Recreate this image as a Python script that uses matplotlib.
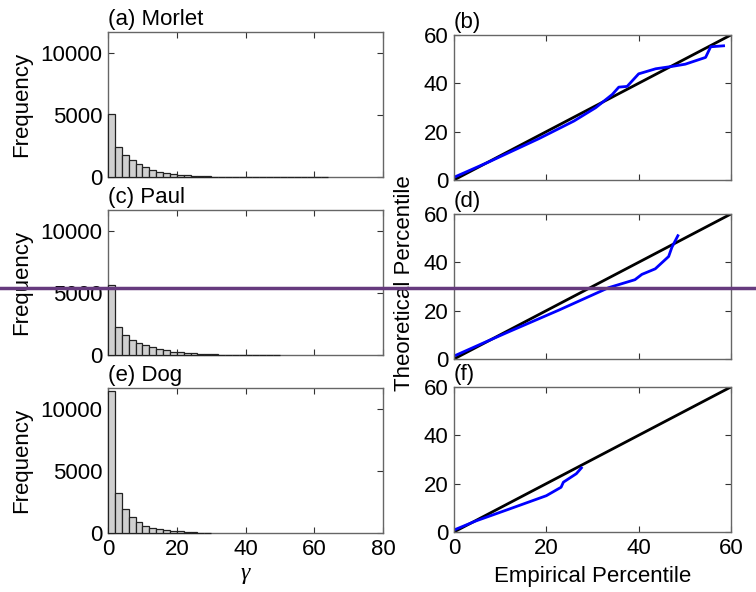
import numpy as np
import matplotlib
matplotlib.use("Agg")
import matplotlib.pyplot as plt
from matplotlib.lines import Line2D

plt.rcParams['font.family'] = ['Liberation Sans', 'DejaVu Sans']

# histogram counts, bins of width 2 starting at 0
bin_width = 2
morlet_counts = [5080, 2450, 1800, 1400, 1070, 810, 590, 430, 350, 250, 190, 130, 80, 80, 60,
                 40, 30, 25, 20, 15, 12, 10, 10, 8, 8, 6, 6, 5, 5, 5, 0, 30]
paul_counts = [5670, 2290, 1650, 1200, 985, 775, 615, 510, 375, 270, 210, 160, 130, 100, 70,
               45, 35, 25, 20, 15, 12, 10, 8, 6, 5]
dog_counts = [11440, 3200, 1920, 1280, 880, 585, 400, 295, 215, 160, 120,
              60, 40, 25, 15]

# QQ curves (empirical vs theoretical percentile)
morlet_emp = [0, 7.6, 18.4, 26, 30.7, 34.3, 35.7, 37.5, 40, 43.7, 47.3, 50.1, 54.5, 55.6, 58.4]
morlet_theo = [1.1, 7.5, 17.1, 24.4, 29.9, 35.4, 38.4, 38.7, 43.9, 46, 47, 47.9, 50.7, 55.1, 55.5]
paul_emp = [0, 6.1, 11.8, 22.7, 33.5, 39.2, 40.7, 43.6, 46.5, 47.2, 48.5]
paul_theo = [1.2, 6.4, 11.2, 20.2, 29.5, 32.8, 35, 37.3, 42.4, 46.2, 51]
dog_emp = [0, 4.8, 12, 20, 23.2, 23.7, 26.5, 27.6]
dog_theo = [0.8, 4.6, 9.5, 15, 18.5, 20.6, 24.1, 26.5]

hist_titles = ['(a) Morlet', '(c) Paul', '(e) Dog']
qq_titles = ['(b)', '(d)', '(f)']

fig = plt.figure(figsize=(7.56, 5.92), dpi=100)

left_rows = [0.701, 0.4003, 0.0997]
right_rows = [0.696, 0.3936, 0.1014]
h = 0.245

def style(ax):
    ax.tick_params(direction='in', top=True, right=True, labelsize=16, pad=4,
                   length=4, width=0.8, color='#333333')
    for s in ax.spines.values():
        s.set_color('#666666')
        s.set_linewidth(1.0)

for i, counts in enumerate([morlet_counts, paul_counts, dog_counts]):
    ax = fig.add_axes([0.1429, left_rows[i], 0.3638, h])
    edges = np.arange(len(counts)) * bin_width
    ax.bar(edges, counts, width=bin_width, align='edge', color='#d0d0d0',
           edgecolor='#222222', linewidth=0.9, zorder=3, clip_on=False)
    ax.set_xlim(0, 80)
    ax.set_ylim(0, 11700)
    ax.set_xticks([0, 20, 40, 60, 80])
    ax.set_yticks([0, 5000, 10000])
    style(ax)
    ax.set_ylabel('Frequency', fontsize=16)
    ax.yaxis.set_label_coords(-0.275, 0.5)
    ax.text(0, 1.015, hist_titles[i], transform=ax.transAxes, fontsize=16,
            ha='left', va='bottom')
    if i < 2:
        ax.set_xticklabels([])
    else:
        ax.set_xlabel('γ', fontsize=17, family='Liberation Serif', style='italic')
        ax.xaxis.set_label_coords(0.5, -0.21)

qq_data = [(morlet_emp, morlet_theo), (paul_emp, paul_theo), (dog_emp, dog_theo)]
for i, (emp, theo) in enumerate(qq_data):
    ax = fig.add_axes([0.6005, right_rows[i], 0.3664, h])
    ax.plot([0, 60], [0, 60], color='black', linewidth=2)
    ax.plot(emp, theo, color='#0000ff', linewidth=2)
    ax.set_xlim(0, 60)
    ax.set_ylim(0, 60)
    ax.set_xticks([0, 20, 40, 60])
    ax.set_yticks([0, 20, 40, 60])
    style(ax)
    ax.text(0, 1.015, qq_titles[i], transform=ax.transAxes, fontsize=16,
            ha='left', va='bottom')
    if i == 1:
        ax.set_ylabel('Theoretical Percentile', fontsize=16)
        ax.yaxis.set_label_coords(-0.14, 0.52)
    if i < 2:
        ax.set_xticklabels([])
    else:
        ax.set_xlabel('Empirical Percentile', fontsize=16)
        ax.xaxis.set_label_coords(0.5, -0.235)

# purple horizontal line across the whole figure
yline = 1 - 288 / 592
fig.add_artist(Line2D([0, 1], [yline, yline], transform=fig.transFigure,
                      color='#663a7e', linewidth=2.5))

fig.savefig('out.png', dpi=100)
